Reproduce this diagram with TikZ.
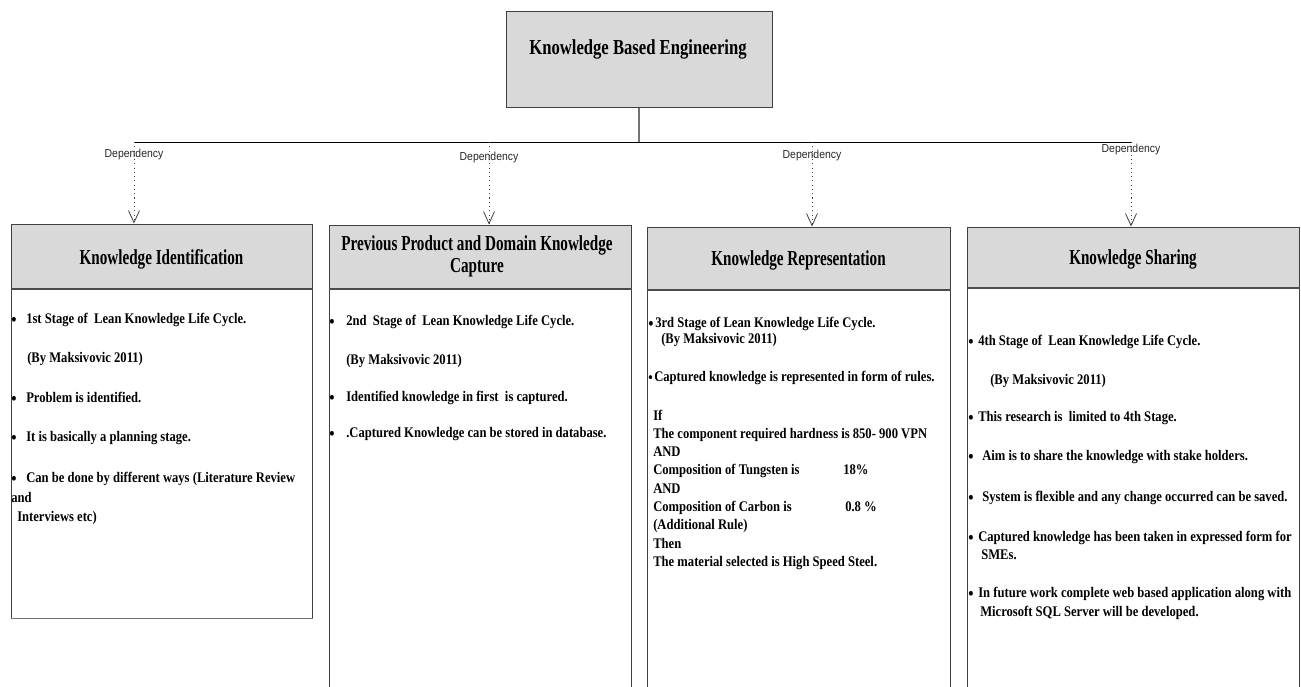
\documentclass[tikz,border=0pt]{standalone}
\usepackage{fontspec}
\setmainfont{Liberation Serif}
\newfontfamily\hdfam{Liberation Serif}[FakeStretch=0.71]
\newfontfamily\ttlfam{Liberation Serif}[FakeStretch=0.78]
\newfontfamily\bdfam{Liberation Serif}[FakeStretch=0.86]
\newfontfamily\depfam{Liberation Sans}[FakeStretch=0.9]
\usetikzlibrary{arrows.meta,fit}
\newcommand\bul[1]{\makebox[#1][l]{\raisebox{-1.5pt}{\fontsize{13}{13}\selectfont\textbullet}}}
\newcommand\sbul[1]{\makebox[#1][l]{\raisebox{-0.8pt}{\fontsize{11}{11}\selectfont\textbullet}}}
\tikzset{
  box/.style={draw=black!75, line width=0.75pt, inner sep=0pt},
  hdr/.style={box, fill=black!15},
  hdt/.style={anchor=base, inner sep=0pt, font=\hdfam\bfseries\fontsize{16}{18}\selectfont},
  ttl/.style={anchor=base, inner sep=0pt, font=\ttlfam\bfseries\fontsize{16}{18}\selectfont},
  hline/.style={draw=black!70, line width=1.5pt},
  txt/.style={anchor=base west, inner sep=0pt, font=\bdfam\bfseries\fontsize{11}{12}\selectfont},
  deplbl/.style={inner sep=0pt, font=\depfam\fontsize{8.7}{10}\selectfont, text=black!85},
  dep/.style={draw=black!75, line width=0.75pt, dash pattern=on 0.8pt off 2.4pt,
    -{Straight Barb[length=9pt,width=8.25pt,line width=0.6pt]}},
}
\begin{document}
\begin{tikzpicture}[x=0.75pt,y=-0.75pt]
\useasboundingbox (0,0) rectangle (1301,686);
\clip (0,0) rectangle (1301,686);
% top box
\node[box, fill=black!15, fit={(506,11) (772,107)}] (kbe) {};
\node[ttl] (kbet) at (638,54) {Knowledge Based Engineering};
\coordinate (bj) at (kbe.south |- 0,142);
\coordinate (j1) at (134,142);
\coordinate (j2) at (489,142);
\coordinate (j3) at (812,142);
\coordinate (j4) at (1131,142);
\draw[draw=black!55, line width=1.1pt] (kbe.south) -- (bj);
\draw[line width=0.75pt] (j1) -- (j4);
% body boxes
\node[box, fit={(11,288) (312,618)}] (b1) {};
\node[box, fit={(329,288) (631,700)}] (b2) {};
\node[box, fit={(647,289) (950,700)}] (b3) {};
\node[box, fit={(967,287) (1299,700)}] (b4) {};
\draw[draw=black!55, line width=1.1pt] (b1.south west) -- (b1.south east);
% header boxes
\node[hdr, fit={(11,224) (312,288)}] (h1) {};
\node[hdr, fit={(329,225) (631,288)}] (h2) {};
\node[hdr, fit={(647,227) (950,289)}] (h3) {};
\node[hdr, fit={(967,227) (1299,287)}] (h4) {};
\foreach \h in {h1,h2,h3,h4}{\draw[hline] (\h.south west) -- (\h.south east);}
\node[hdt] (h1t) at (161.5,264) {Knowledge Identification};
\node[hdt] (h2t) at (477,250) {Previous Product and Domain Knowledge};
\node[hdt] (h2u) at (477,272) {Capture};
\node[hdt] (h3t) at (798.5,265) {Knowledge Representation};
\node[hdt] (h4t) at (1133,264) {Knowledge Sharing};
% dependencies
\draw[dep] (j1) -- (j1 |- h1.north);
\draw[dep] (j2) -- (j2 |- h2.north);
\draw[dep] (j3) -- (j3 |- h3.north);
\draw[dep] (j4) -- (j4 |- h4.north);
\node[deplbl] (d1) at (134,154) {Dependency};
\node[deplbl] (d2) at (489,157) {Dependency};
\node[deplbl] (d3) at (812,155) {Dependency};
\node[deplbl] (d4) at (1131,149) {Dependency};
% column 1
\node[txt] (t11) at (11,323) {\bul{11.25pt}1st Stage of\ \ Lean Knowledge Life Cycle.};
\node[txt] (t12) at (27,362) {(By Maksivovic 2011)};
\node[txt] (t13) at (11,402) {\bul{11.25pt}Problem is identified.};
\node[txt] (t14) at (11,441) {\bul{11.25pt}It is basically a planning stage.};
\node[txt] (t15) at (11,482) {\bul{11.25pt}Can be done by different ways (Literature Review};
\node[txt] (t16) at (11,502) {and};
\node[txt] (t17) at (17,521) {Interviews etc)};
% column 2
\node[txt] (t21) at (329,325) {\bul{12.75pt}2nd\ \ Stage of\ \ Lean Knowledge Life Cycle.};
\node[txt] (t22) at (346,364) {(By Maksivovic 2011)};
\node[txt] (t23) at (329,401) {\bul{12.75pt}Identified knowledge in first\ \ is captured.};
\node[txt] (t24) at (329,437) {\bul{12.75pt}.Captured Knowledge can be stored in database.};
% column 3
\node[txt] (t31) at (648,327) {\bul{5.25pt}3rd Stage of Lean Knowledge Life Cycle.};
\node[txt] (t32) at (661,343) {(By Maksivovic 2011)};
\node[txt] (t33) at (648,381) {\sbul{4.5pt}Captured knowledge is represented in form of rules.};
\node[txt] (t34) at (653,420) {If};
\node[txt] (t35) at (653,438.3) {The component required hardness is 850- 900 VPN};
\node[txt] (t36) at (653,456.6) {AND};
\node[txt] (t37) at (653,474.9) {\makebox[142.5pt][l]{Composition of Tungsten is}18\%};
\node[txt] (t38) at (653,493.2) {AND};
\node[txt] (t39) at (653,511.5) {\makebox[144pt][l]{Composition of Carbon is}0.8 \%};
\node[txt] (t3a) at (653,529.8) {(Additional Rule)};
\node[txt] (t3b) at (653,548.1) {Then};
\node[txt] (t3c) at (653,566.4) {The material selected is High Speed Steel.};
% column 4
\node[txt] (t41) at (968,345) {\bul{7.5pt}4th Stage of\ \ Lean Knowledge Life Cycle.};
\node[txt] (t42) at (990,384) {(By Maksivovic 2011)};
\node[txt] (t43) at (968,421) {\bul{7.5pt}This research is\ \ limited to 4th Stage.};
\node[txt] (t44) at (968,460) {\bul{10.5pt}Aim is to share the knowledge with stake holders.};
\node[txt] (t45) at (968,501) {\bul{10.5pt}System is flexible and any change occurred can be saved.};
\node[txt] (t46) at (968,541) {\bul{7.5pt}Captured knowledge has been taken in expressed form for};
\node[txt] (t47) at (981,559) {SMEs.};
\node[txt] (t48) at (968,597) {\bul{7.5pt}In future work complete web based application along with};
\node[txt] (t49) at (980,616) {Microsoft SQL Server will be developed.};
\end{tikzpicture}
\end{document}
